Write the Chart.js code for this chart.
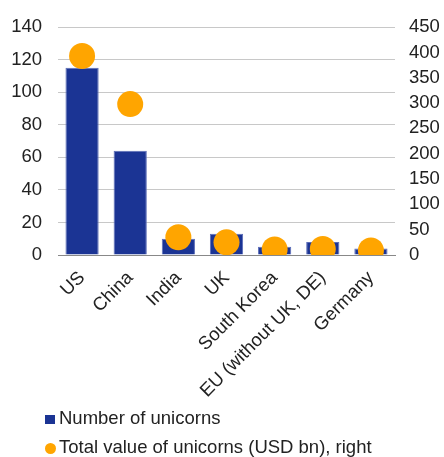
<!DOCTYPE html>
<html>
<head>
<meta charset="utf-8">
<script src="https://cdn.jsdelivr.net/npm/chart.js@4.4.0/dist/chart.umd.min.js"></script>
<style>
  html, body { margin: 0; padding: 0; background: #fff; }
  #wrap { position: relative; width: 444px; height: 457px; overflow: hidden; }
  #unicornChart { position: absolute; left: 0; top: 0; }
  .legend-mark { position: absolute; }
  .legend-text {
    position: absolute;
    font-family: 'Liberation Sans', Arial, sans-serif;
    font-size: 18.5px;
    line-height: 20px;
    color: #222;
    white-space: nowrap;
  }
</style>
</head>
<body>
<div id="wrap">
  <canvas id="unicornChart" width="444" height="457"></canvas>
  <div class="legend-mark" style="left:45px; top:415px; width:10px; height:9px; background:#1B3494;"></div>
  <div class="legend-text" id="legendBars" style="left:59px; top:408px;"></div>
  <div class="legend-mark" style="left:45px; top:443px; width:11px; height:11px; border-radius:50%; background:#FFA500;"></div>
  <div class="legend-text" id="legendDots" style="left:59px; top:437px;"></div>
</div>
<script>
// values
const countries = ["US", "China", "India", "UK", "South Korea", "EU (without UK, DE)", "Germany"];
const unicornCounts = [115, 64, 10, 13, 5, 8, 4];
const unicornValues = [393, 298, 35, 25, 11, 12, 9];
const leftTicks = [0, 20, 40, 60, 80, 100, 120, 140];
const rightTicks = [0, 50, 100, 150, 200, 250, 300, 350, 400, 450];
const barLabel = "Number of unicorns";
const dotLabel = "Total value of unicorns (USD bn), right";

const fontFamily = "'Liberation Sans', Arial, sans-serif";
const fontSize = 18.5;

document.getElementById("legendBars").textContent = barLabel;
document.getElementById("legendDots").textContent = dotLabel;

new Chart(document.getElementById("unicornChart"), {
    type: "bar",
    data: {
        labels: countries,
        datasets: [
            {
                type: "line",
                label: dotLabel,
                data: unicornValues,
                yAxisID: "y1",
                showLine: false,
                pointStyle: "circle",
                pointRadius: 13,
                pointHoverRadius: 13,
                backgroundColor: "#FFA500",
                borderColor: "#FFA500",
                borderWidth: 0,
                order: 0,
            },
            {
                label: barLabel,
                data: unicornCounts,
                yAxisID: "y",
                backgroundColor: "#1B3494",
                borderColor: "#5C6DB8",
                borderWidth: 1,
                categoryPercentage: 1,
                barPercentage: 0.69,
                order: 1,
            },
        ]
    },
    options: {
        responsive: false,
        animation: false,
        layout: { padding: { top: 15, left: 0, right: 0, bottom: 0 } },
        plugins: {
            tooltip: { enabled: false },
            legend: { display: false }
        },
        scales: {
            x: {
                grid: { display: false, drawTicks: false },
                border: { color: "#888", width: 1 },
                ticks: {
                    color: "#222",
                    font: { family: fontFamily, size: fontSize },
                    minRotation: 45,
                    maxRotation: 45,
                    padding: 12,
                    autoSkip: false,
                },
                afterFit: (scale) => { scale.height = 202; },
            },
            y: {
                position: "left",
                min: 0,
                max: 140,
                afterBuildTicks: (scale) => { scale.ticks = leftTicks.map(v => ({ value: v })); },
                grid: { color: "#C8C8C8", drawTicks: false },
                border: { display: false },
                ticks: {
                    color: "#222",
                    font: { family: fontFamily, size: fontSize },
                    padding: 16,
                },
                afterFit: (scale) => { scale.width = 58; },
            },
            y1: {
                position: "right",
                min: 0,
                max: 450,
                afterBuildTicks: (scale) => { scale.ticks = rightTicks.map(v => ({ value: v })); },
                grid: { display: false, drawTicks: false },
                border: { display: false },
                ticks: {
                    color: "#222",
                    font: { family: fontFamily, size: fontSize },
                    padding: 14,
                },
                afterFit: (scale) => { scale.width = 49; },
            }
        }
    }
});
</script>
</body>
</html>
